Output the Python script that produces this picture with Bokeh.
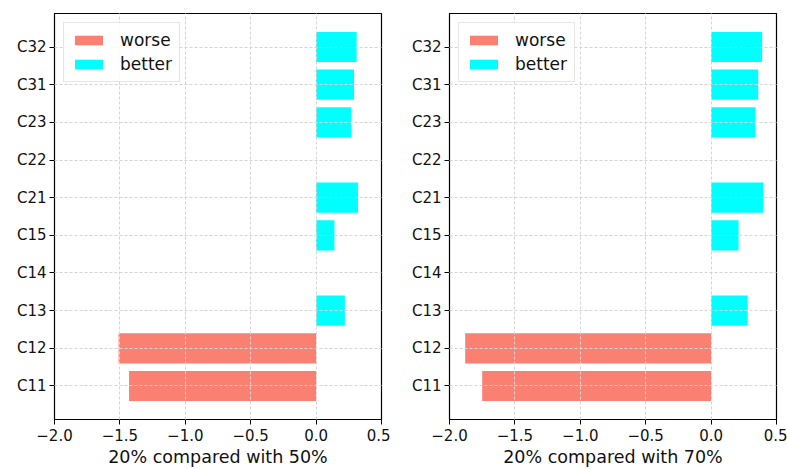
from bokeh.plotting import figure
from bokeh.layouts import row
from bokeh.models import Range1d, FixedTicker, Legend, LegendItem
from bokeh.embed import file_html
from bokeh.resources import INLINE

categories = ["C11", "C12", "C13", "C14", "C15", "C21", "C22", "C23", "C31", "C32"]
vals_50 = [-1.43, -1.51, 0.22, 0.0, 0.14, 0.32, 0.0, 0.27, 0.29, 0.31]
vals_70 = [-1.75, -1.88, 0.28, 0.0, 0.21, 0.40, 0.0, 0.34, 0.36, 0.39]
x_ticks = [-2.0, -1.5, -1.0, -0.5, 0.0, 0.5]
xlabels = ["20% compared with 50%", "20% compared with 70%"]

WORSE = "#FA8072"
BETTER = "#00FFFF"
FONT = "DejaVu Sans"


def make_panel(vals, xlabel, width, bl, br):
    p = figure(width=width, height=469, output_backend="svg", toolbar_location=None,
               x_range=Range1d(-2.0, 0.5), y_range=Range1d(-0.89, 9.89),
               min_border_left=bl, min_border_right=br, min_border_top=13, min_border_bottom=50)
    idx = list(range(len(categories)))
    wy = [i for i, v in zip(idx, vals) if v < 0]
    wv = [v for v in vals if v < 0]
    by = [i for i, v in zip(idx, vals) if v >= 0]
    bv = [v for v in vals if v >= 0]
    r1 = p.hbar(y=wy, left=0, right=wv, height=0.8, fill_color=WORSE, line_color=None)
    r2 = p.hbar(y=by, left=0, right=bv, height=0.8, fill_color=BETTER, line_color=None)

    p.outline_line_color = "black"
    p.outline_line_width = 1.2
    for ax in (p.xaxis[0], p.yaxis[0]):
        ax.major_label_text_font = FONT
        ax.major_label_text_font_size = "15px"
        ax.major_label_text_color = "#111111"
        ax.major_tick_out = 5
        ax.major_tick_in = 0
        ax.minor_tick_out = 0
        ax.minor_tick_in = 0
        ax.axis_line_color = "black"
        ax.major_tick_line_color = "black"
        ax.major_label_standoff = 4
    p.yaxis.major_label_standoff = 3
    p.xaxis.ticker = FixedTicker(ticks=x_ticks)
    p.xaxis.major_label_overrides = {t: ("\u2212" if t < 0 else "") + "%.1f" % abs(t) for t in x_ticks}
    p.yaxis.ticker = FixedTicker(ticks=idx)
    p.yaxis.major_label_overrides = {i: c for i, c in enumerate(categories)}
    p.xaxis.axis_label = xlabel
    p.xaxis.axis_label_text_font = FONT
    p.xaxis.axis_label_text_font_size = "17.5px"
    p.xaxis.axis_label_text_font_style = "normal"
    p.xaxis.axis_label_text_color = "#111111"
    p.xaxis.axis_label_standoff = 3

    for g in (p.xgrid[0], p.ygrid[0]):
        g.grid_line_color = "#d4d4d4"
        g.grid_line_dash = "3 2"
        g.grid_line_width = 1
        g.level = "overlay"

    legend = Legend(items=[LegendItem(label="worse", renderers=[r1]),
                           LegendItem(label="better", renderers=[r2])],
                    location="top_left")
    legend.label_text_font = FONT
    legend.label_text_font_size = "17px"
    legend.label_text_color = "#111111"
    legend.glyph_width = 35
    legend.glyph_height = 12
    legend.label_standoff = 14
    legend.padding = 7
    legend.spacing = 4
    legend.margin = 9
    legend.border_line_color = "#cccccc"
    legend.border_line_width = 1
    legend.background_fill_alpha = 0.85
    p.add_layout(legend)
    return p


p1 = make_panel(vals_50, xlabels[0], 390, 54, 9)
p2 = make_panel(vals_70, xlabels[1], 397, 59, 11)
layout = row(p1, p2)

open("out.html", "w").write(file_html(layout, INLINE))
